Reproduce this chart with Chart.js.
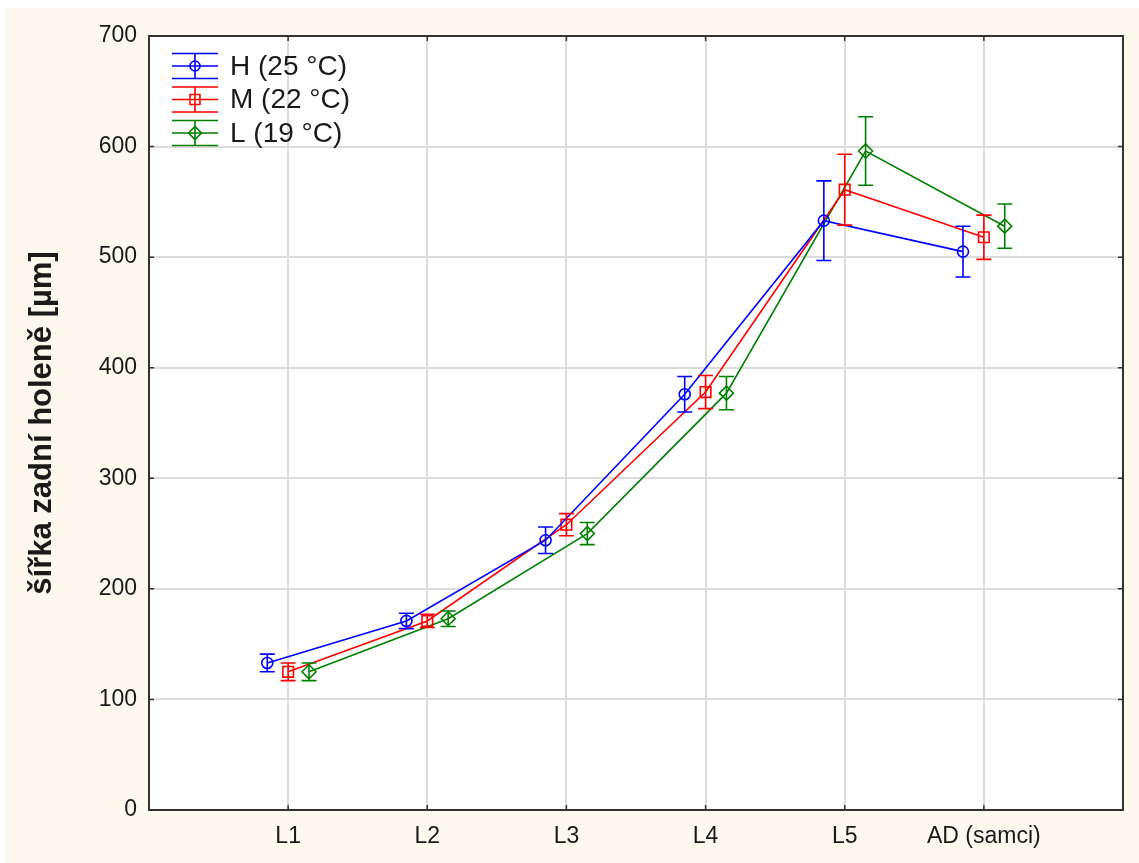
<!DOCTYPE html>
<html>
<head>
<meta charset="utf-8">
<script src="https://cdn.jsdelivr.net/npm/chart.js@4.4.1/dist/chart.umd.min.js"></script>
<style>
  html, body { margin: 0; padding: 0; background: #fff; }
  #wrap { width: 1139px; height: 863px; }
</style>
</head>
<body>
<div id="wrap"><canvas id="chart"></canvas></div>
<script>
const categories = ["L1", "L2", "L3", "L4", "L5", "AD (samci)"];
const seriesNames = ["H (25 °C)", "M (22 °C)", "L (19 °C)"];
const hMeans = [133, 171, 244, 376, 533, 505];
const mMeans = [125, 171, 258, 378, 561, 518];
const lMeans = [125, 173, 250, 377, 596, 528];
const hErr = [8, 7, 12, 16, 36, 23];
const mErr = [8, 6, 10, 15, 32, 20];
const lErr = [8, 7, 10, 15, 31, 20];
const offsets = [-0.15, 0, 0.15];
const yTicks = [0, 100, 200, 300, 400, 500, 600, 700];

const colors = ["#0000ff", "#ff0000", "#008000"];
const markers = ["circle", "rect", "rectRot"];
const markerSizes = [5.5, 7.5, 7];
const means = [hMeans, mMeans, lMeans];
const errs = [hErr, mErr, lErr];

const tickFont = { family: "'Liberation Sans', Arial", size: 23 };

const datasets = means.map((m, s) => ({
  label: seriesNames[s],
  data: m.map((v, i) => ({ x: i + 1 + offsets[s], y: v })),
  errors: errs[s],
  borderColor: colors[s],
  borderWidth: 1.6,
  pointStyle: markers[s],
  pointRadius: markerSizes[s],
  pointBorderWidth: 1.6,
  pointBorderColor: colors[s],
  pointBackgroundColor: "rgba(0,0,0,0)",
  tension: 0,
}));

// cream page, white plot area
const background = {
  id: "background",
  beforeDraw(chart) {
    const { ctx, chartArea: a } = chart;
    ctx.save();
    ctx.fillStyle = "#fff";
    ctx.fillRect(0, 0, chart.width, chart.height);
    ctx.fillStyle = "#fdf8ee";
    ctx.fillRect(6, 8, chart.width - 6, chart.height - 8);
    ctx.fillStyle = "#fff";
    ctx.fillRect(a.left, a.top, a.right - a.left, a.bottom - a.top);
    ctx.restore();
  },
};

// vertical error bars with caps
const errorBars = {
  id: "errorBars",
  afterDatasetsDraw(chart) {
    const { ctx } = chart;
    const x = chart.scales.x, y = chart.scales.y;
    ctx.save();
    chart.data.datasets.forEach((ds) => {
      ctx.strokeStyle = ds.borderColor;
      ctx.lineWidth = 1.6;
      ds.data.forEach((p, i) => {
        const px = x.getPixelForValue(p.x);
        const top = y.getPixelForValue(p.y + ds.errors[i]);
        const bot = y.getPixelForValue(p.y - ds.errors[i]);
        ctx.beginPath();
        ctx.moveTo(px, top); ctx.lineTo(px, bot);
        ctx.moveTo(px - 7.5, top); ctx.lineTo(px + 7.5, top);
        ctx.moveTo(px - 7.5, bot); ctx.lineTo(px + 7.5, bot);
        ctx.stroke();
      });
    });
    ctx.restore();
  },
};

// plot frame, small inner ticks and the legend box
const frame = {
  id: "frame",
  afterDraw(chart) {
    const { ctx, chartArea: a } = chart;
    const x = chart.scales.x, y = chart.scales.y;
    ctx.save();
    ctx.strokeStyle = "#333";
    ctx.lineWidth = 2;
    ctx.strokeRect(a.left, a.top, a.right - a.left, a.bottom - a.top);
    ctx.lineWidth = 1.5;
    ctx.beginPath();
    categories.forEach((c, i) => {
      const px = x.getPixelForValue(i + 1);
      ctx.moveTo(px, a.bottom); ctx.lineTo(px, a.bottom - 5);
      ctx.moveTo(px, a.top); ctx.lineTo(px, a.top + 5);
    });
    yTicks.forEach((v) => {
      const py = y.getPixelForValue(v);
      ctx.moveTo(a.left, py); ctx.lineTo(a.left + 5, py);
      ctx.moveTo(a.right, py); ctx.lineTo(a.right - 5, py);
    });
    ctx.stroke();

    // legend
    ctx.font = "28px 'Liberation Sans', Arial";
    ctx.textBaseline = "middle";
    chart.data.datasets.forEach((ds, s) => {
      const cy = a.top + 30 + s * 33.5;
      const x0 = a.left + 23, x1 = a.left + 69, cx = (x0 + x1) / 2;
      ctx.strokeStyle = ds.borderColor;
      ctx.lineWidth = 1.6;
      ctx.beginPath();
      [-12.5, 0, 12.5].forEach((d) => { ctx.moveTo(x0, cy + d); ctx.lineTo(x1, cy + d); });
      ctx.moveTo(cx, cy - 12.5); ctx.lineTo(cx, cy + 12.5);
      ctx.stroke();
      ctx.fillStyle = "rgba(0,0,0,0)";
      Chart.helpers.drawPoint(ctx, { pointStyle: ds.pointStyle, radius: markerSizes[s] - 0.5, borderWidth: 1.6 }, cx, cy);
      ctx.fillStyle = "#1a1a1a";
      ctx.fillText(ds.label, a.left + 81, cy + 1);
    });
    ctx.restore();
  },
};

const config = {
  type: "line",
  data: { datasets },
  options: {
    responsive: true,
    maintainAspectRatio: false,
    animation: false,
    layout: { padding: { top: 36, right: 16, left: 0, bottom: 0 } },
    plugins: { legend: { display: false }, tooltip: { enabled: false } },
    scales: {
      x: {
        type: "linear",
        min: 0,
        max: 7,
        afterBuildTicks: (scale) => { scale.ticks = categories.map((c, i) => ({ value: i + 1 })); },
        afterFit: (scale) => { scale.height = 53; },
        ticks: {
          callback: (v) => categories[v - 1] || "",
          font: tickFont,
          color: "#1a1a1a",
          padding: 13,
          maxRotation: 0,
        },
        grid: { color: "#dcdcdc", lineWidth: 2, drawTicks: false },
        border: { display: false },
      },
      y: {
        min: 0,
        max: 700,
        afterBuildTicks: (scale) => { scale.ticks = yTicks.map((v) => ({ value: v })); },
        afterFit: (scale) => { scale.width = 149; },
        ticks: { font: tickFont, color: "#1a1a1a", padding: 12 },
        grid: { color: "#dcdcdc", lineWidth: 2, drawTicks: false },
        border: { display: false },
        title: {
          display: true,
          text: "šířka zadní holeně [µm]",
          font: { family: "'Liberation Sans', Arial", size: 31, weight: "bold" },
          color: "#1a1a1a",
          padding: { top: 24, bottom: 0 },
        },
      },
    },
  },
  plugins: [background, errorBars, frame],
};

const lineChart = new Chart(document.getElementById("chart"), config);
</script>
</body>
</html>
